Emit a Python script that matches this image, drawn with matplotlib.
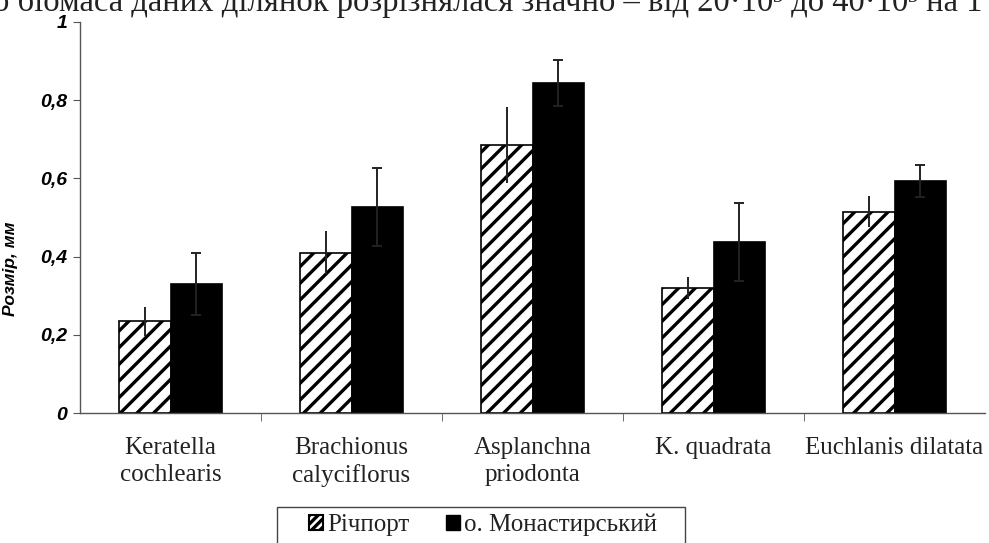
import numpy as np
import matplotlib
matplotlib.use("Agg")
import matplotlib.pyplot as plt
from matplotlib.patches import Patch, Rectangle

# --- Data
species = ["Keratella\ncochlearis", "Brachionus\ncalyciflorus", "Asplanchna\npriodonta",
           "K. quadrata", "Euchlanis dilatata"]
richport = [0.235, 0.41, 0.685, 0.32, 0.515]
richport_err = [0.037, 0.055, 0.097, 0.028, 0.04]
monastyr = [0.33, 0.527, 0.844, 0.437, 0.593]
monastyr_err = [0.08, 0.10, 0.06, 0.10, 0.04]
yticks = [0, 0.2, 0.4, 0.6, 0.8, 1.0]
ytick_labels = ["0", "0,2", "0,4", "0,6", "0,8", "1"]
legend_labels = ["Річпорт", "о. Монастирський"]
page_text = "о біомаса даних ділянок розрізнялася значно – від 20·10³ до 40·10³ на 1 м²"

plt.rcParams["hatch.linewidth"] = 2.4
serif = ["Liberation Serif", "DejaVu Serif"]
sans = ["Liberation Sans", "DejaVu Sans"]

fig = plt.figure(figsize=(9.89, 5.43), dpi=100)
ax = fig.add_axes([80 / 989, 130 / 543, 905 / 989, 391 / 543])

x = np.arange(len(species))
w = 0.287
ax.bar(x - w / 2, richport, w, color="white", edgecolor="black", hatch="//",
       linewidth=1.2, zorder=2)
ax.bar(x + w / 2, monastyr, w, color="black", edgecolor="black", linewidth=1.2, zorder=2)
ax.errorbar(x - w / 2, richport, yerr=richport_err, fmt="none", ecolor="#222222",
            elinewidth=1.4, capsize=0, zorder=3)
ax.errorbar(x + w / 2, monastyr, yerr=monastyr_err, fmt="none", ecolor="#222222",
            elinewidth=1.4, capsize=3.6, capthick=1.4, zorder=3)

ax.set_xlim(-0.5, len(species) - 0.5)
ax.set_ylim(0, 1)
ax.set_yticks(yticks)
ax.set_yticklabels(ytick_labels, family=sans, fontsize=14, fontweight="bold",
                   fontstyle="italic")
ax.set_xticks(x)
ax.set_xticklabels(species, family=serif, fontsize=18, va="top", linespacing=1.3,
                   color="#222222")
ax.set_xticks(np.arange(len(species) - 1) + 0.5, minor=True)
ax.tick_params(axis="x", which="major", length=0, pad=17)
ax.tick_params(axis="x", which="minor", length=6, direction="out", color="#555555")
ax.tick_params(axis="y", length=5, color="#555555", pad=4)
ax.set_ylabel("Розмір, мм", family=sans, fontsize=12.5, fontweight="bold",
              fontstyle="italic")
ax.yaxis.set_label_coords((18 - 80) / 905, (413 - 269) / 391)

for side in ("top", "right"):
    ax.spines[side].set_visible(False)
for side in ("left", "bottom"):
    ax.spines[side].set_color("#555555")
    ax.spines[side].set_linewidth(1.0)

# legend (frame drawn separately, it is wider than the entries)
handles = [Patch(facecolor="white", edgecolor="black", hatch="////", linewidth=1.5),
           Patch(facecolor="black", edgecolor="black")]
leg = fig.legend(handles, legend_labels, loc="upper left",
                 bbox_to_anchor=(309 / 989, 1 - 514 / 543), ncol=2,
                 prop={"family": serif, "size": 18}, frameon=False,
                 handlelength=0.56, handleheight=0.56, handletextpad=0.16,
                 columnspacing=1.45, borderpad=0, borderaxespad=0)
for t in leg.get_texts():
    t.set_color("#222222")
fig.patches.append(Rectangle((277 / 989, -0.05), (685 - 277) / 989, 0.05 + 36 / 543,
                             transform=fig.transFigure, facecolor="none",
                             edgecolor="#444444", linewidth=1.0))

# cut line of book text above the figure
fig.text(-0.007, 1 - 11 / 543, page_text, family=serif, fontsize=23.5, va="baseline",
         ha="left", color="#222222")

fig.savefig("out.png", dpi=100, facecolor="white")
